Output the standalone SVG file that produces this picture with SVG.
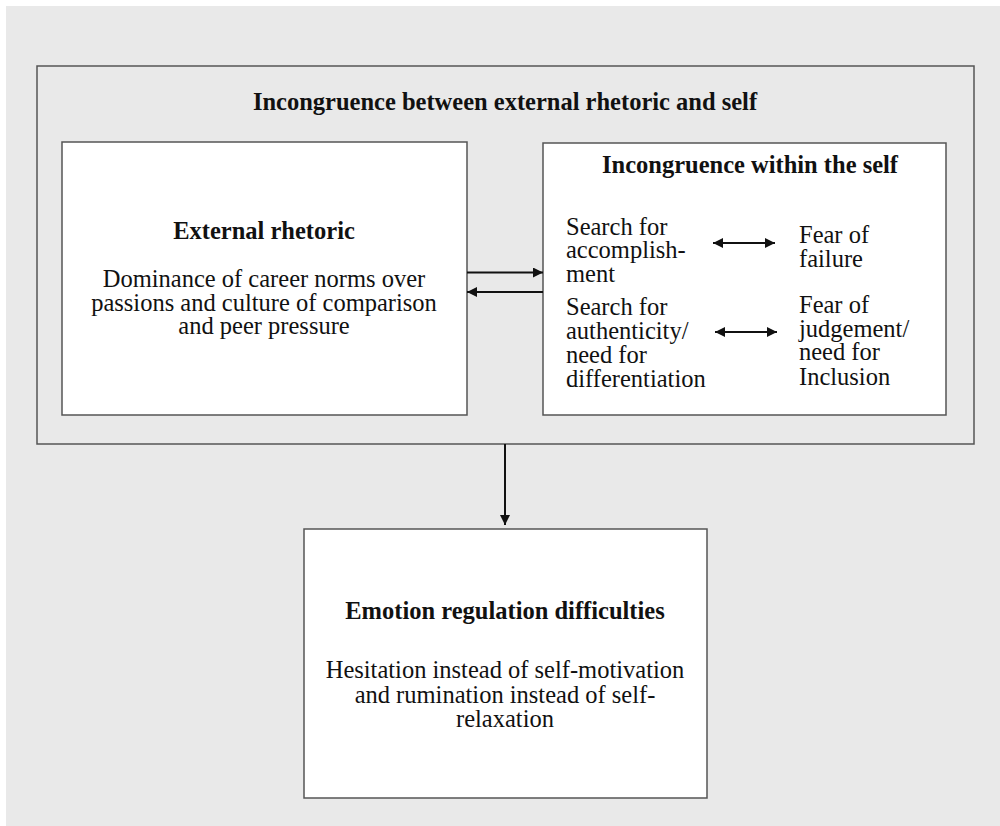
<svg xmlns="http://www.w3.org/2000/svg" width="1000" height="826" viewBox="0 0 1000 826">
<style>
.box{fill:#fff;stroke:#555;stroke-width:1.5}
.outer{fill:#e9e9e9;stroke:#555;stroke-width:1.5}
.b{font-weight:bold;font-size:24.5px;fill:#111}
.t{font-size:24.5px;fill:#111}
.c{text-anchor:middle}
.ln{stroke:#111;stroke-width:2;fill:none}
</style>
<defs>
<marker id="ah" viewBox="0 0 10 10" refX="10" refY="5" markerWidth="5.5" markerHeight="5" markerUnits="strokeWidth" orient="auto-start-reverse">
<path d="M0,0 L10,5 L0,10 z" fill="#111"/>
</marker>
</defs>
<rect x="6" y="6" width="994" height="820" fill="#e9e9e9"/>
<g id="outer" font-family="Liberation Serif, serif">
<rect class="outer" x="37" y="66" width="937" height="378"/>
<text class="b c" x="505" y="110">Incongruence between external rhetoric and self</text>
</g>
<g id="external" font-family="Liberation Serif, serif">
<rect class="box" x="62" y="142" width="405" height="273"/>
<text class="b c" x="264" y="239">External rhetoric</text>
<text class="t c"><tspan x="264" y="287">Dominance of career norms over</tspan><tspan x="264" y="311">passions and culture of comparison</tspan><tspan x="264" y="334">and peer pressure</tspan></text>
</g>
<g id="within" font-family="Liberation Serif, serif">
<rect class="box" x="543" y="143" width="403" height="272"/>
<text class="b c" x="750" y="173">Incongruence within the self</text>
<text class="t"><tspan x="566" y="235">Search for</tspan><tspan x="566" y="258">accomplish-</tspan><tspan x="566" y="282">ment</tspan></text>
<text class="t"><tspan x="566" y="315">Search for</tspan><tspan x="566" y="339">authenticity/</tspan><tspan x="566" y="363">need for</tspan><tspan x="566" y="387">differentiation</tspan></text>
<text class="t"><tspan x="799" y="243">Fear of</tspan><tspan x="799" y="267">failure</tspan></text>
<text class="t"><tspan x="799" y="313">Fear of</tspan><tspan x="799" y="337">judgement/</tspan><tspan x="799" y="360">need for</tspan><tspan x="799" y="385">Inclusion</tspan></text>
</g>
<g id="emotion" font-family="Liberation Serif, serif">
<rect class="box" x="304" y="529" width="403" height="269"/>
<text class="b c" x="505" y="619">Emotion regulation difficulties</text>
<text class="t c"><tspan x="505" y="678">Hesitation instead of self-motivation</tspan><tspan x="505" y="703">and rumination instead of self-</tspan><tspan x="505" y="727">relaxation</tspan></text>
</g>
<g id="connectors">
<line class="ln" x1="467" y1="272.5" x2="543" y2="272.5" marker-end="url(#ah)"/>
<line class="ln" x1="543" y1="292" x2="467" y2="292" marker-end="url(#ah)"/>
<line class="ln" x1="713" y1="243" x2="775" y2="243" marker-start="url(#ah)" marker-end="url(#ah)"/>
<line class="ln" x1="715" y1="332" x2="777" y2="332" marker-start="url(#ah)" marker-end="url(#ah)"/>
<line class="ln" x1="505" y1="444" x2="505" y2="525" marker-end="url(#ah)"/>
</g>
</svg>
